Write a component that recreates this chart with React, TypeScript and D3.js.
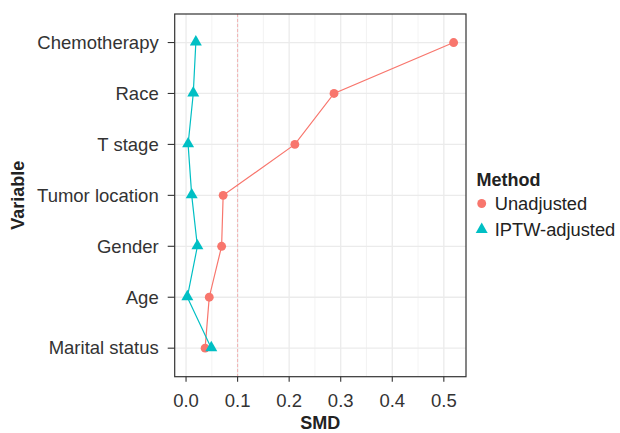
import React from "react";
import * as d3 from "d3";

// variables, top to bottom
const variables = [
  "Chemotherapy",
  "Race",
  "T stage",
  "Tumor location",
  "Gender",
  "Age",
  "Marital status",
];
const unadjusted = [0.519, 0.287, 0.211, 0.072, 0.069, 0.045, 0.037];
const iptw = [0.019, 0.014, 0.004, 0.011, 0.022, 0.0025, 0.049];
const xTicks = [0, 0.1, 0.2, 0.3, 0.4, 0.5];
const methods = ["Unadjusted", "IPTW-adjusted"];
const colors = ["#F8766D", "#00BFC4"];

const W = 620;
const H = 433;
const panel = { left: 174.7, right: 466, top: 14, bottom: 376.7 };
const font = "'Liberation Sans', Arial, Helvetica, sans-serif";

export default function App() {
  const x = d3.scaleLinear().domain([-0.022, 0.543]).range([panel.left, panel.right]);
  const y = d3
    .scalePoint<string>()
    .domain(variables)
    .range([panel.top, panel.bottom])
    .padding(0.56);

  const minor = d3.range(-0.05, 0.6, 0.1).filter((v) => x(v) > panel.left && x(v) < panel.right);

  const line = d3
    .line<number>()
    .x((d) => x(d))
    .y((_, i) => y(variables[i]) as number);

  const tri = d3.symbol().type(d3.symbolTriangle).size(62)();
  const circ = d3.symbol().type(d3.symbolCircle).size(62)();

  return (
    <svg width={W} height={H} style={{ position: "absolute", left: 0, top: 0 }}>
      <rect width={W} height={H} fill="#fff" />
      {/* grid */}
      {minor.map((v) => (
        <line key={"mi" + v} x1={x(v)} x2={x(v)} y1={panel.top} y2={panel.bottom} stroke="#F0F0F0" strokeWidth={0.8} />
      ))}
      {xTicks.map((v) => (
        <line key={"mx" + v} x1={x(v)} x2={x(v)} y1={panel.top} y2={panel.bottom} stroke="#EBEBEB" strokeWidth={1.3} />
      ))}
      {variables.map((v) => (
        <line key={"gy" + v} x1={panel.left} x2={panel.right} y1={y(v)} y2={y(v)} stroke="#EBEBEB" strokeWidth={1.3} />
      ))}
      {/* reference line */}
      <line x1={x(0.1)} x2={x(0.1)} y1={panel.top} y2={panel.bottom} stroke="#F2A0A0" strokeWidth={0.8} strokeDasharray="3,2" />
      {/* series */}
      <path d={line(unadjusted) || ""} fill="none" stroke={colors[0]} strokeWidth={1.2} />
      <path d={line(iptw) || ""} fill="none" stroke={colors[1]} strokeWidth={1.2} />
      {unadjusted.map((v, i) => (
        <path key={"u" + i} d={circ || ""} transform={`translate(${x(v)},${y(variables[i])})`} fill={colors[0]} />
      ))}
      {iptw.map((v, i) => (
        <path key={"t" + i} d={tri || ""} transform={`translate(${x(v)},${(y(variables[i]) as number) - 0.5})`} fill={colors[1]} />
      ))}
      {/* panel border */}
      <rect x={panel.left} y={panel.top} width={panel.right - panel.left} height={panel.bottom - panel.top} fill="none" stroke="#333" strokeWidth={1.2} />
      {/* y axis */}
      {variables.map((v) => (
        <g key={"yl" + v}>
          <line x1={panel.left - 7} x2={panel.left} y1={y(v)} y2={y(v)} stroke="#333" strokeWidth={1.1} />
          <text x={panel.left - 16} y={(y(v) as number) + 6.3} textAnchor="end" fontFamily={font} fontSize={18.5} fill="#333">
            {v}
          </text>
        </g>
      ))}
      {/* x axis */}
      {xTicks.map((v) => (
        <g key={"xl" + v}>
          <line x1={x(v)} x2={x(v)} y1={panel.bottom} y2={panel.bottom + 5} stroke="#333" strokeWidth={1.1} />
          <text x={x(v)} y={407} textAnchor="middle" fontFamily={font} fontSize={18.5} fill="#333">
            {d3.format(".1f")(v)}
          </text>
        </g>
      ))}
      <text x={(panel.left + panel.right) / 2} y={429} textAnchor="middle" fontFamily={font} fontSize={18} fontWeight="bold" fill="#222">
        SMD
      </text>
      <text transform={`translate(24,${(panel.top + panel.bottom) / 2}) rotate(-90)`} textAnchor="middle" fontFamily={font} fontSize={18} fontWeight="bold" fill="#222">
        Variable
      </text>
      {/* legend */}
      <text x={476.5} y={186} fontFamily={font} fontSize={18} fontWeight="bold" fill="#222">
        Method
      </text>
      {methods.map((m, i) => (
        <g key={m} transform={`translate(481.7,${203.5 + i * 26})`}>
          <path d={(i === 0 ? circ : tri) || ""} fill={colors[i]} />
          <text x={13} y={6.3} fontFamily={font} fontSize={18.3} fill="#222">
            {m}
          </text>
        </g>
      ))}
    </svg>
  );
}
